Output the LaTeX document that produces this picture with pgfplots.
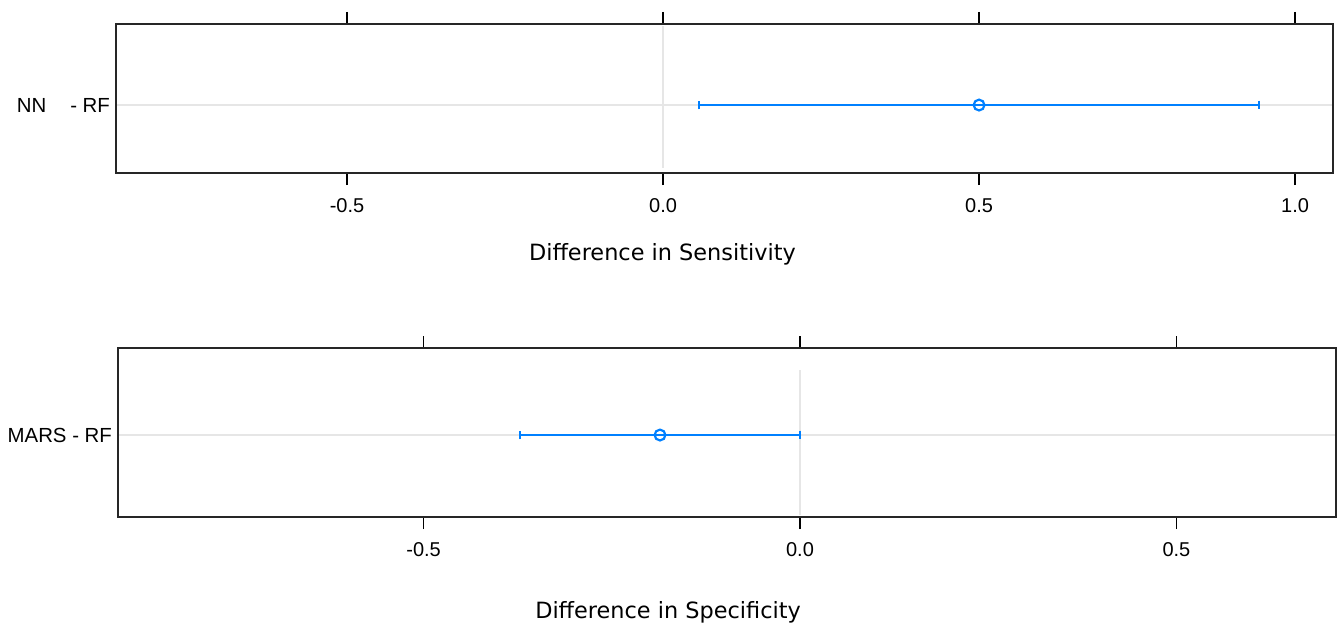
\documentclass[border=0pt]{standalone}
\usepackage{fontspec}
\setmainfont{Liberation Sans}
\newfontfamily\verd{DejaVu Sans}
\usepackage{pgfplots}
\pgfplotsset{compat=1.18}
\definecolor{ebblue}{RGB}{0,128,255}
\definecolor{refgray}{RGB}{230,230,230}
\pgfplotsset{
  panel/.style={
    scale only axis,
    axis line style={black!85, line width=0.75pt},
    tick align=outside,
    xtick pos=both,
    xticklabel pos=lower,
    major tick length=6pt,
    xtick style={black, line width=0.75pt},
    ytick style={draw=none},
    ytick={1},
    ymajorgrids,
    grid style={refgray, line width=0.75pt},
    /pgf/number format/assume math mode=true,
    /pgf/number format/fixed,
    /pgf/number format/fixed zerofill,
    /pgf/number format/precision=1,
    xticklabel style={font=\fontsize{10}{12}\selectfont, yshift=-3pt},
    yticklabel style={font=\fontsize{10.2}{12}\selectfont, xshift=6.5pt},
    clip=false,
  },
  eb/.style={
    ebblue, line width=1.35pt,
    mark=o, mark size=2.7pt, mark options={ebblue, line width=1.1pt, solid},
    error bars/.cd, x dir=both, x explicit,
    error bar style={ebblue, line width=1.35pt},
    error mark options={ebblue, line width=1.1pt, mark size=2.2pt, rotate=90},
  },
}
\begin{document}
\begin{tikzpicture}
\useasboundingbox (0,0) rectangle (669pt,314pt);
% top panel
\begin{axis}[panel,
  at={(58pt,227.5pt)}, anchor=south west,
  width=608.5pt, height=74.5pt,
  xmin=-0.8655, xmax=1.060,
  ymin=0.088, ymax=2.088,
  xtick={-0.5,0,0.5,1},
  yticklabels={NN\hspace{12pt}- RF},
  xlabel={Difference in Sensitivity},
  xlabel style={font=\verd\fontsize{11.2}{13}\selectfont, at={(axis description cs:0.449,0)}, anchor=center, yshift=-40.5pt},
]
\addplot[refgray, line width=0.75pt] coordinates {(0,0.155) (0,2.061)};
\addplot[eb] coordinates {(0.5,1) -= (0.443,0) += (0.443,0)};
\end{axis}
% bottom panel
\begin{axis}[panel,
  at={(59pt,55.5pt)}, anchor=south west,
  width=609pt, height=84.5pt,
  xmin=-0.906, xmax=0.712,
  ymin=0.03, ymax=2.03,
  xtick={-0.5,0,0.5},
  yticklabels={MARS - RF},
  xlabel={Difference in Specificity},
  xlabel style={font=\verd\fontsize{11.2}{13}\selectfont, at={(axis description cs:0.4516,0)}, anchor=center, yshift=-47.5pt},
]
\addplot[refgray, line width=0.75pt] coordinates {(0,0.054) (0,1.77)};
\addplot[eb] coordinates {(-0.186,1) -= (0.186,0) += (0.186,0)};
\end{axis}
\end{tikzpicture}
\end{document}
